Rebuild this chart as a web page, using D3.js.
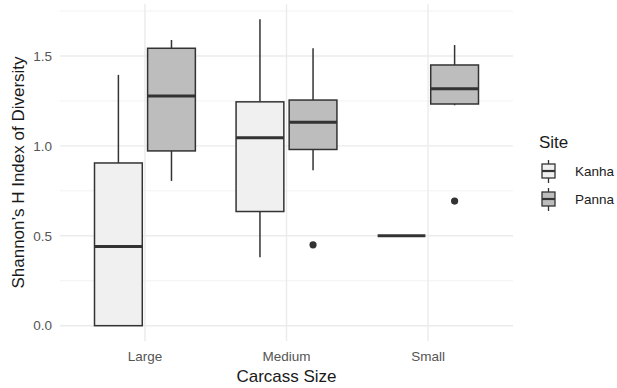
<!DOCTYPE html>
<html>
<head>
<meta charset="utf-8">
<script src="https://cdn.jsdelivr.net/npm/d3@7"></script>
<style>
  body { margin: 0; background: #fff; }
  text { font-family: "Liberation Sans", Arial, sans-serif; }
</style>
</head>
<body>
<div id="chart"></div>
<script>
let W = 617, H = 388;

// data
let categories = ["Large", "Medium", "Small"];
let sites = ["Kanha", "Panna"];
let kanhaLow  = [0.00, 0.38, 0.50];
let kanhaQ1   = [0.00, 0.635, 0.50];
let kanhaMed  = [0.44, 1.045, 0.50];
let kanhaQ3   = [0.905, 1.245, 0.50];
let kanhaHigh = [1.395, 1.705, 0.50];
let pannaLow  = [0.805, 0.865, 1.226];
let pannaQ1   = [0.972, 0.98, 1.233];
let pannaMed  = [1.278, 1.132, 1.318];
let pannaQ3   = [1.543, 1.255, 1.45];
let pannaHigh = [1.589, 1.543, 1.561];
let outliers = [
  { cat: "Medium", site: "Panna", v: 0.45 },
  { cat: "Small", site: "Panna", v: 0.693 }
];
let yTicks = [0, 0.5, 1.0, 1.5];
let yMinor = [0.25, 0.75, 1.25, 1.75];
let fills = ["#f0f0f0", "#bdbdbd"];

let boxes = [];
categories.forEach(function (c, i) {
  boxes.push({ cat: c, site: "Kanha", low: kanhaLow[i], q1: kanhaQ1[i], med: kanhaMed[i], q3: kanhaQ3[i], high: kanhaHigh[i] });
  boxes.push({ cat: c, site: "Panna", low: pannaLow[i], q1: pannaQ1[i], med: pannaMed[i], q3: pannaQ3[i], high: pannaHigh[i] });
});

let panel = { left: 60, right: 513, top: 4, bottom: 341 };

let x = d3.scaleBand()
  .domain(categories)
  .range([panel.left, panel.right])
  .paddingInner(0.25)
  .paddingOuter(0.225);
let xs = d3.scaleBand()
  .domain(sites)
  .range([0, x.bandwidth()])
  .paddingInner(0.1)
  .paddingOuter(0.05);
let y = d3.scaleLinear()
  .domain([-0.0852, 1.7892])
  .range([panel.bottom, panel.top]);
let fill = d3.scaleOrdinal().domain(sites).range(fills);

let svg = d3.select("#chart").append("svg")
  .attr("width", W).attr("height", H);

// grid
svg.append("g").selectAll("line").data(yMinor).enter().append("line")
  .attr("x1", panel.left).attr("x2", panel.right)
  .attr("y1", d => y(d)).attr("y2", d => y(d))
  .attr("stroke", "#f2f2f2").attr("stroke-width", 1);
svg.append("g").selectAll("line").data(yTicks).enter().append("line")
  .attr("x1", panel.left).attr("x2", panel.right)
  .attr("y1", d => y(d)).attr("y2", d => y(d))
  .attr("stroke", "#ebebeb").attr("stroke-width", 1.4);
svg.append("g").selectAll("line").data(categories).enter().append("line")
  .attr("x1", d => x(d) + x.bandwidth() / 2).attr("x2", d => x(d) + x.bandwidth() / 2)
  .attr("y1", panel.top).attr("y2", panel.bottom)
  .attr("stroke", "#ebebeb").attr("stroke-width", 1.4);

// boxes
let g = svg.append("g").selectAll("g").data(boxes).enter().append("g");
let bx = d => x(d.cat) + xs(d.site);
let cx = d => bx(d) + xs.bandwidth() / 2;

g.append("line")
  .attr("x1", cx).attr("x2", cx)
  .attr("y1", d => y(d.q3)).attr("y2", d => y(d.high))
  .attr("stroke", "#333").attr("stroke-width", 1.5);
g.append("line")
  .attr("x1", cx).attr("x2", cx)
  .attr("y1", d => y(d.q1)).attr("y2", d => y(d.low))
  .attr("stroke", "#333").attr("stroke-width", 1.5);
g.append("rect")
  .attr("x", bx).attr("width", xs.bandwidth())
  .attr("y", d => y(d.q3)).attr("height", d => y(d.q1) - y(d.q3))
  .attr("fill", d => fill(d.site))
  .attr("stroke", "#333").attr("stroke-width", 1.5);
g.append("line")
  .attr("x1", bx).attr("x2", d => bx(d) + xs.bandwidth())
  .attr("y1", d => y(d.med)).attr("y2", d => y(d.med))
  .attr("stroke", "#333").attr("stroke-width", 3);

svg.append("g").selectAll("circle").data(outliers).enter().append("circle")
  .attr("cx", d => x(d.cat) + xs(d.site) + xs.bandwidth() / 2)
  .attr("cy", d => y(d.v))
  .attr("r", 3.6)
  .attr("fill", "#333");

// axes text
svg.append("g").selectAll("text").data(yTicks).enter().append("text")
  .attr("x", 52).attr("y", d => y(d)).attr("dy", "0.35em")
  .attr("text-anchor", "end")
  .attr("font-size", 13.5).attr("fill", "#555")
  .text(d => d3.format(".1f")(d));
svg.append("g").selectAll("text").data(categories).enter().append("text")
  .attr("x", d => x(d) + x.bandwidth() / 2).attr("y", 361)
  .attr("text-anchor", "middle")
  .attr("font-size", 13.5).attr("fill", "#555")
  .text(d => d);

svg.append("text")
  .attr("x", (panel.left + panel.right) / 2).attr("y", 382)
  .attr("text-anchor", "middle")
  .attr("font-size", 17).attr("fill", "#1a1a1a")
  .text("Carcass Size");
svg.append("text")
  .attr("transform", "translate(24," + ((panel.top + panel.bottom) / 2) + ") rotate(-90)")
  .attr("text-anchor", "middle")
  .attr("font-size", 17).attr("fill", "#1a1a1a")
  .text("Shannon\u2019s H Index of Diversity");

// legend
let leg = svg.append("g");
leg.append("text")
  .attr("x", 539).attr("y", 148)
  .attr("font-size", 17).attr("fill", "#1a1a1a")
  .text("Site");
let items = leg.selectAll("g").data(sites).enter().append("g")
  .attr("transform", (d, i) => "translate(542," + (171 + i * 28) + ")");
items.append("line")
  .attr("x1", 6.5).attr("x2", 6.5).attr("y1", -11).attr("y2", 12)
  .attr("stroke", "#333").attr("stroke-width", 1.3);
items.append("rect")
  .attr("x", 0).attr("y", -7).attr("width", 13).attr("height", 14)
  .attr("fill", d => fill(d)).attr("stroke", "#333").attr("stroke-width", 1.3);
items.append("line")
  .attr("x1", 0).attr("x2", 13).attr("y1", 0).attr("y2", 0)
  .attr("stroke", "#333").attr("stroke-width", 2.2);
items.append("text")
  .attr("x", 33).attr("y", 0).attr("dy", "0.35em")
  .attr("font-size", 13.5).attr("fill", "#1a1a1a")
  .text(d => d);
</script>
</body>
</html>
